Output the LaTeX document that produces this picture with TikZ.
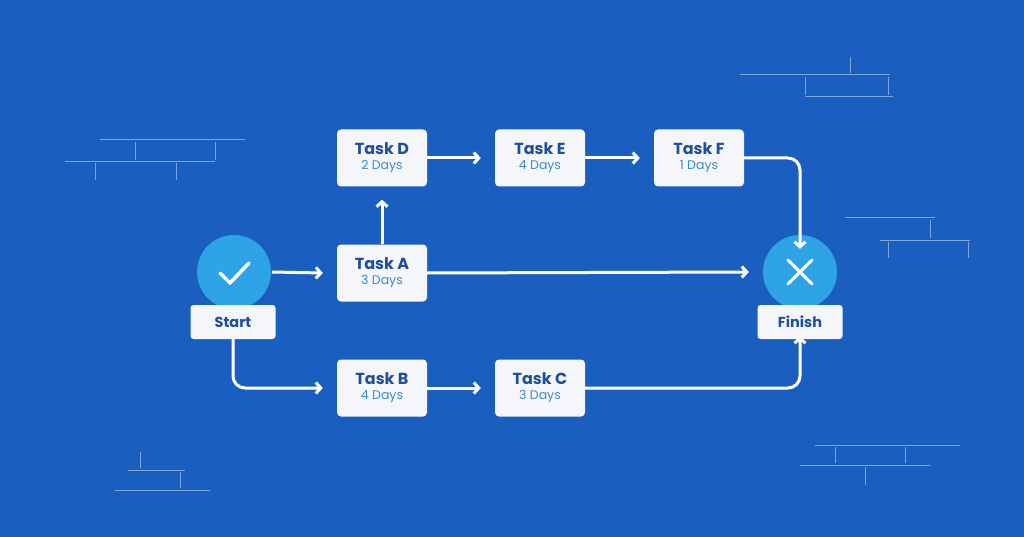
\documentclass[tikz,border=0pt]{standalone}
\usepackage{fontspec}
\setmainfont{Poppins}
\usetikzlibrary{arrows.meta}
\definecolor{bg}{HTML}{1A5FC0}
\definecolor{circ}{HTML}{2EA3E6}
\definecolor{tdark}{HTML}{1F4E9C}
\definecolor{tlight}{HTML}{3A8AD0}
\definecolor{boxc}{HTML}{F4F6FA}
\begin{document}
\begin{tikzpicture}[x=1pt,y=-1pt,
 box/.style={draw=none,fill=boxc,rounded corners=4pt,minimum width=90pt,minimum height=57pt,align=center,inner sep=0pt},
 lab/.style={draw=none,fill=boxc,rounded corners=3pt,minimum width=85pt,minimum height=34pt,inner sep=0pt,font=\fontsize{14.5}{16}\selectfont\bfseries\color{tdark}},
 circ/.style={circle,fill=circ,minimum size=74pt,inner sep=0pt},
 arr/.style={draw=white,line width=3pt,-{Straight Barb[length=5pt,width=11pt]},rounded corners=12pt},
 deco/.style={draw=white,opacity=0.45,line width=1pt}]
\fill[bg] (0,0) rectangle (1024,537);
\useasboundingbox (0,0) rectangle (1024,537);
% decorations
\draw[deco] (740,75)--(890,75) (805,97)--(893,97) (850,57)--(850,73) (805,77)--(805,95) (888,77)--(888,95);
\draw[deco] (100,140)--(245,140) (65,162)--(215,162) (135,142)--(135,160) (215,142)--(215,160) (95,163)--(95,180) (176,163)--(176,180);
\draw[deco] (845,218)--(935,218) (880,240)--(970,240) (930,220)--(930,238) (888,242)--(888,258) (968,242)--(968,258);
\draw[deco] (128,470)--(185,470) (115,490)--(210,490) (140,452)--(140,468) (180,472)--(180,488);
\draw[deco] (815,445)--(960,445) (800,465)--(930,465) (905,447)--(905,463) (835,447)--(835,463) (865,467)--(865,485);
\newcommand{\tk}[2]{{\fontsize{16}{18}\selectfont\bfseries\color{tdark}#1}\\[3pt]{\fontsize{12.5}{14}\selectfont\color{tlight}#2}}
\node[box] (D) at (382,158) {\tk{Task D}{2 Days}};
\node[box] (E) at (540,158) {\tk{Task E}{4 Days}};
\node[box] (F) at (699,158) {\tk{Task F}{1 Days}};
\node[box] (A) at (382,273) {\tk{Task A}{3 Days}};
\node[box] (B) at (382,388) {\tk{Task B}{4 Days}};
\node[box] (C) at (540,388) {\tk{Task C}{3 Days}};
\node[circ] (S) at (234,272) {};
\draw[white,line width=3.5pt,line cap=round,line join=round] (220,273)--(230,283)--(249,263);
\node[lab] (SL) at (233,322) {Start};
\node[circ] (X) at (800,272) {};
\draw[white,line width=3pt,line cap=round] (788,260)--(812,284) (812,260)--(788,284);
\node[lab] (XL) at (800,322) {Finish};
\coordinate (sa) at (272,272);
\draw[arr] (sa) -- ([xshift=-14pt]A.west);
\draw[arr] (A.north) -- ([yshift=-13pt]D.south);
\draw[arr] (D.east) -- ([xshift=-14pt]E.west);
\draw[arr] (E.east) -- ([xshift=-14pt]F.west);
\draw[arr] (F.east) -| ([yshift=-14pt]X.north);
\draw[arr] (A.east) -- ([xshift=-14pt]X.west);
\draw[arr] (SL.south) |- ([xshift=-14pt]B.west);
\draw[arr] (B.east) -- ([xshift=-14pt]C.west);
\draw[arr] (C.east) -| ([yshift=3pt]XL.south);
\end{tikzpicture}
\end{document}
